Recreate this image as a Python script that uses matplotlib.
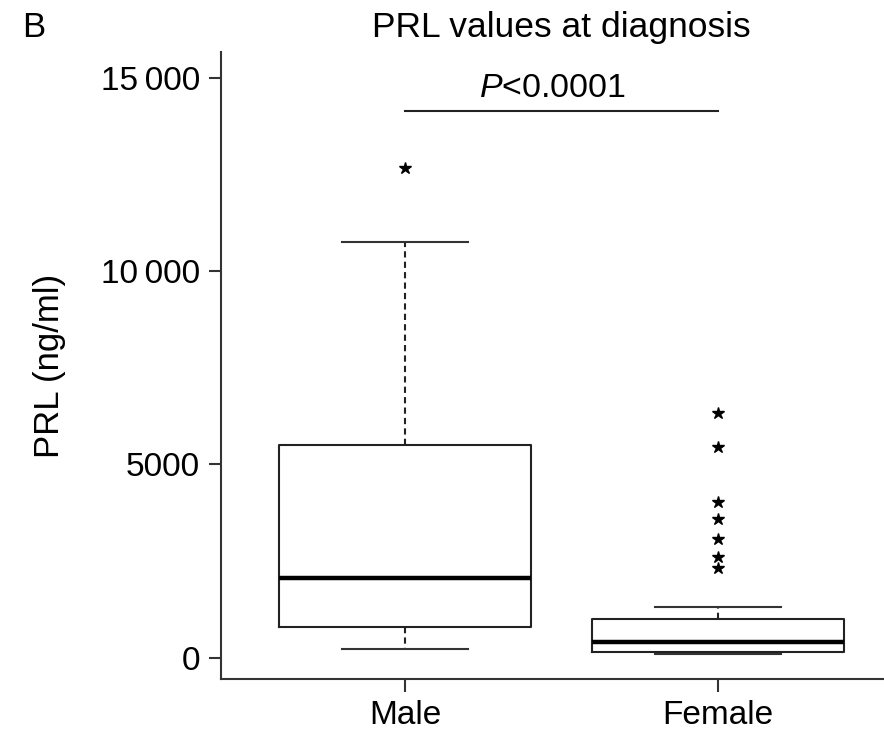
import matplotlib
matplotlib.use("Agg")
import matplotlib.pyplot as plt

# ==========================================
# data (ng/ml)
# ==========================================
groups = ["Male", "Female"]
q1 = [800, 150]
median = [2060, 405]
q3 = [5500, 1010]
whisker_low = [225, 95]
whisker_high = [10750, 1310]
outliers_male = [12660]
outliers_female = [6335, 5455, 4035, 3580, 3060, 2595, 2330]

yticks = [0, 5000, 10000, 15000]
ytick_labels = ["0", "5000", "10\u2009000", "15\u2009000"]
p_label = r"$\it{P}$<0.0001"
sig_y = 14140

plt.rcParams['font.family'] = ['Liberation Sans', 'DejaVu Sans']
plt.rcParams['mathtext.fontset'] = 'custom'
plt.rcParams['mathtext.it'] = 'Liberation Sans:italic'
plt.rcParams['mathtext.rm'] = 'Liberation Sans'

fig = plt.figure(figsize=(8.84, 7.45), dpi=100)
ax = fig.add_axes([0.25, 0.0886, 0.75, 0.8416])

stats = []
fliers = [outliers_male, outliers_female]
for i, g in enumerate(groups):
    stats.append(dict(label=g, q1=q1[i], med=median[i], q3=q3[i],
                      whislo=whisker_low[i], whishi=whisker_high[i],
                      fliers=fliers[i]))

lw = 1.5
ax.bxp(stats, positions=[1, 2], widths=0.805, patch_artist=False,
       boxprops=dict(color="#222222", linewidth=lw),
       medianprops=dict(color="black", linewidth=3.2),
       whiskerprops=dict(color="#222222", linewidth=lw, linestyle=(0, (3, 2))),
       capprops=dict(color="#333333", linewidth=lw),
       flierprops=dict(marker="*", markersize=9, markerfacecolor="black",
                       markeredgecolor="black", linestyle="none"),
       capwidths=0.4)

# significance bar
ax.plot([1, 2], [sig_y, sig_y], color="#222222", linewidth=lw)
ax.text(1.47, sig_y + 180, p_label, ha="center", va="bottom", fontsize=24.5)

ax.set_xlim(0.412, 2.53)
ax.set_ylim(-551, 15663)
ax.set_xticks([1, 2])
ax.set_xticklabels(groups, fontsize=24)
ax.set_yticks(yticks)
ax.set_yticklabels(ytick_labels, fontsize=24)
ax.set_ylabel("PRL (ng/ml)", fontsize=25, labelpad=25)

for s in ["top", "right"]:
    ax.spines[s].set_visible(False)
for s in ["left", "bottom"]:
    ax.spines[s].set_linewidth(1.5)
    ax.spines[s].set_color("#333333")
ax.tick_params(direction="out", length=9, width=1.5, color="#333333", pad=6)

fig.text(0.635, 0.951, "PRL values at diagnosis", ha="center", fontsize=25.5)
fig.text(0.025, 0.951, "B", fontsize=25)

fig.savefig("out.png", dpi=100)
